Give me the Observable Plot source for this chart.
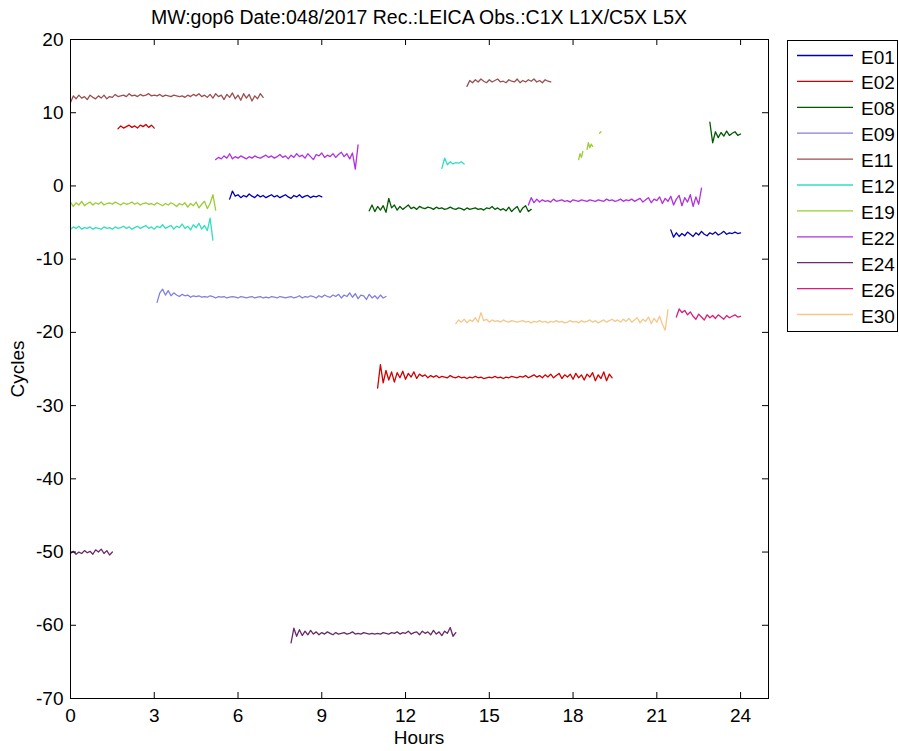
<!DOCTYPE html>
<html>
<head>
<meta charset="utf-8">
<script src="https://cdn.jsdelivr.net/npm/d3@7"></script>
<script src="https://cdn.jsdelivr.net/npm/@observablehq/plot@0.6"></script>
<style>
  html, body { margin: 0; padding: 0; background: #fff; }
  #wrap { position: relative; width: 899px; height: 751px; font-family: "Liberation Sans", Arial, sans-serif; color: #000; }
  #wrap > svg { position: absolute; left: 0; top: 0; }
  .abs { position: absolute; white-space: nowrap; font-size: 19px; }
</style>
</head>
<body>
<div id="wrap"></div>
<script>
// ---- Data ----
const titleText = "MW:gop6 Date:048/2017 Rec.:LEICA Obs.:C1X L1X/C5X L5X";
const xLabel = "Hours";
const yLabel = "Cycles";
const xTicks = [0, 3, 6, 9, 12, 15, 18, 21, 24];
const yTicks = [-70, -60, -50, -40, -30, -20, -10, 0, 10, 20];
const sats = ["E01", "E02", "E08", "E09", "E11", "E12", "E19", "E22", "E24", "E26", "E30"];
const colors = ["#0000b0", "#d00000", "#005a00", "#7f7fdf", "#9a4f4f", "#30dfc0", "#9acd32", "#b030e0", "#6a2a6a", "#d4207e", "#f5c88a"];

// Series values: each pass sampled every 0.1 h (fragments 0.05 h)
const E11_a = [11.4,12.3,11.9,12.4,12.0,12.2,11.8,12.4,12.1,11.9,
  12.3,12.0,12.4,11.9,12.2,12.1,12.5,12.2,12.3,12.4,
  12.2,12.6,12.3,12.4,12.2,12.5,12.3,12.4,12.6,12.3,
  12.4,12.3,12.5,12.2,12.4,12.3,12.2,12.4,12.3,12.2,
  12.3,12.1,12.4,12.2,12.5,12.3,12.6,12.2,12.4,12.1,
  12.5,12.0,12.6,12.2,12.4,11.8,12.5,12.1,12.7,11.9,
  12.4,11.7,12.6,12.0,12.5,11.6,12.3,11.9,12.6,12.1];
const E11_b = [13.6,14.4,14.1,14.5,14.2,14.6,14.3,14.1,14.5,14.2,14.4,14.6,14.2,14.3,14.1,14.5,14.3,14.2,14.6,14.1,14.4,14.2,14.5,14.3,14.6,14.2,14.4,14.1,14.5,14.3,14.2];
const E02_a = [7.8,8.2,7.9,8.1,8.3,8.0,8.2,7.9,8.3,8.1,8.4,8.0,8.3,7.9];
const E02_b = [-27.6,-24.4,-26.9,-25.2,-26.5,-25.4,-26.8,-25.5,-26.2,-25.3,
  -26.4,-25.6,-26.1,-25.4,-26.3,-25.7,-26.0,-25.8,-26.2,-25.9,
  -26.1,-25.9,-26.2,-26.0,-26.1,-26.2,-25.9,-26.1,-26.2,-26.0,
  -26.2,-26.1,-26.3,-26.1,-26.2,-26.0,-26.2,-26.1,-26.3,-26.2,
  -26.1,-26.2,-26.0,-26.2,-26.1,-26.3,-26.1,-26.2,-26.0,-26.1,
  -26.2,-26.0,-26.1,-25.9,-26.2,-26.0,-25.8,-26.1,-25.9,-26.2,
  -25.8,-26.1,-25.7,-26.2,-25.9,-25.6,-26.3,-25.8,-26.1,-25.7,
  -26.4,-25.6,-26.2,-25.8,-26.5,-25.7,-26.1,-25.5,-26.6,-25.8,
  -26.3,-25.4,-26.6,-25.7,-26.2];
const E22_a = [3.6,3.9,3.7,4.1,3.8,4.4,3.7,4.0,3.8,4.1,
  3.9,3.7,4.0,3.8,4.1,3.9,3.8,4.0,4.2,3.9,
  4.1,3.8,4.0,4.3,3.9,4.1,3.7,4.2,3.9,4.4,
  4.0,4.2,3.8,4.4,4.0,3.6,4.3,4.1,4.5,3.9,
  4.2,4.0,4.4,3.9,4.3,4.6,4.0,4.4,3.7,4.5,
  2.3,5.6];
const E22_b = [-2.6,-1.6,-2.3,-1.8,-2.2,-1.9,-2.1,-2.0,-2.2,-1.8,
  -2.1,-2.0,-1.9,-2.1,-2.0,-2.2,-1.9,-2.0,-2.1,-1.9,
  -2.0,-2.1,-1.9,-2.0,-2.1,-1.9,-2.0,-2.1,-1.8,-2.0,
  -1.9,-2.1,-2.0,-1.8,-2.1,-1.9,-2.0,-1.8,-2.1,-1.9,
  -1.7,-2.2,-1.9,-1.6,-2.3,-1.8,-2.0,-1.5,-2.4,-1.7,
  -2.1,-1.4,-2.6,-1.8,-1.3,-2.7,-1.6,-2.2,-1.2,-2.8,
  -1.5,-2.5,-0.3];
const E19_a = [-2.2,-2.8,-2.3,-2.6,-2.1,-2.7,-2.4,-2.2,-2.6,-2.3,
  -2.5,-2.2,-2.6,-2.4,-2.3,-2.5,-2.2,-2.4,-2.6,-2.3,
  -2.5,-2.4,-2.2,-2.5,-2.3,-2.6,-2.4,-2.3,-2.5,-2.4,
  -2.6,-2.3,-2.5,-2.7,-2.4,-2.6,-2.3,-2.5,-2.8,-2.4,
  -2.6,-2.3,-2.9,-2.4,-2.7,-2.2,-3.0,-2.5,-2.1,-3.1,
  -2.4,-1.2,-3.3];
const E19_b = [3.6,4.4,3.9,4.7];
const E19_c = [5.0,5.9,5.2,5.7,5.4];
const E19_d = [7.2,7.4];
const E12_a = [-5.9,-5.6,-5.8,-5.5,-5.9,-5.7,-5.8,-5.6,-5.9,-5.7,
  -5.8,-5.9,-5.6,-5.8,-5.7,-5.9,-5.6,-5.8,-5.7,-5.5,
  -5.8,-5.6,-5.9,-5.7,-5.5,-5.8,-5.6,-5.4,-5.8,-5.6,
  -5.9,-5.5,-5.7,-5.3,-5.8,-5.6,-5.4,-5.9,-5.5,-5.7,
  -5.2,-5.8,-5.5,-6.0,-5.3,-5.7,-5.1,-5.9,-5.4,-6.1,
  -4.4,-7.4];
const E12_b = [2.4,3.8,2.9,3.3,3.0,3.2,3.1,3.3,3.0];
const E01_a = [-1.8,-0.7,-1.4,-1.2,-1.6,-1.3,-1.5,-1.1,-1.4,-1.6,
  -1.2,-1.5,-1.3,-1.6,-1.4,-1.2,-1.5,-1.3,-1.6,-1.4,
  -1.2,-1.5,-1.7,-1.3,-1.5,-1.2,-1.6,-1.4,-1.3,-1.6,
  -1.4,-1.5,-1.3,-1.5];
const E01_b = [-6.0,-7.0,-6.4,-6.9,-6.5,-6.8,-6.3,-6.6,-6.9,-6.4,-6.7,-6.2,-6.6,-6.8,-6.4,-6.6,-6.3,-6.7,-6.5,-6.2,-6.6,-6.4,-6.5,-6.3,-6.5,-6.4];
const E08_a = [-3.4,-2.6,-3.5,-2.8,-3.3,-2.7,-3.6,-1.7,-3.0,-2.6,
  -3.3,-2.8,-3.2,-2.9,-2.6,-3.1,-2.9,-3.2,-2.8,-3.0,
  -3.1,-2.9,-3.0,-3.2,-2.9,-3.1,-3.0,-3.2,-3.1,-2.9,
  -3.1,-3.2,-3.0,-3.1,-3.3,-3.0,-3.2,-3.1,-3.0,-3.2,
  -3.1,-3.3,-3.0,-3.1,-2.8,-3.2,-3.0,-3.3,-3.1,-3.4,
  -2.9,-3.5,-3.1,-2.8,-3.6,-3.0,-2.7,-3.5,-3.2];
const E08_b = [8.7,5.9,7.4,6.6,7.3,6.8,7.5,6.9,7.2,7.4,6.9,7.1];
const E09_a = [-15.9,-14.6,-14.1,-14.9,-14.3,-15.0,-14.6,-14.9,-15.1,-14.8,
  -15.0,-14.9,-15.2,-15.0,-15.1,-15.0,-15.2,-15.1,-15.2,-15.0,
  -15.1,-15.3,-15.1,-15.2,-15.1,-15.3,-15.2,-15.1,-15.2,-15.3,
  -15.1,-15.2,-15.3,-15.2,-15.1,-15.3,-15.2,-15.1,-15.3,-15.2,
  -15.3,-15.1,-15.2,-15.3,-15.1,-15.2,-15.3,-15.2,-15.1,-15.3,
  -15.2,-15.0,-15.3,-15.1,-15.2,-15.0,-15.1,-15.3,-15.0,-15.2,
  -14.9,-15.1,-15.2,-14.9,-15.1,-14.8,-15.3,-14.9,-15.1,-14.6,
  -15.2,-14.7,-15.4,-14.9,-15.0,-15.5,-14.8,-15.3,-15.0,-15.4,
  -14.9,-15.3,-15.1];
const E30_a = [-18.8,-18.3,-18.6,-18.2,-18.7,-18.3,-18.5,-18.0,-18.6,-17.3,
  -18.4,-18.2,-18.6,-18.3,-18.5,-18.4,-18.6,-18.3,-18.5,-18.6,
  -18.4,-18.5,-18.6,-18.5,-18.4,-18.6,-18.5,-18.7,-18.5,-18.6,
  -18.4,-18.6,-18.5,-18.7,-18.5,-18.6,-18.4,-18.6,-18.5,-18.7,
  -18.6,-18.4,-18.6,-18.5,-18.7,-18.4,-18.6,-18.5,-18.3,-18.6,
  -18.4,-18.7,-18.5,-18.3,-18.6,-18.4,-18.2,-18.5,-18.3,-18.6,
  -18.2,-18.5,-18.1,-18.6,-18.3,-18.0,-18.7,-18.2,-18.5,-17.9,
  -18.8,-18.1,-18.6,-17.8,-18.9,-19.7,-16.9];
const E26_a = [-17.9,-16.8,-17.3,-17.0,-17.6,-17.2,-17.8,-18.2,-17.5,-17.9,-18.3,-17.6,-18.0,-17.7,-18.1,-17.6,-17.9,-18.2,-17.7,-18.0,-17.8,-17.6,-17.9,-17.8];
const E24_a = [-50.2,-49.9,-50.3,-50.0,-50.2,-49.8,-50.1,-49.9,-50.3,-49.7,-50.0,-49.6,-50.2,-49.8,-50.4,-50.0];
const E24_b = [-62.4,-60.4,-61.5,-60.6,-61.4,-60.8,-61.3,-60.7,-61.2,-60.9,
  -61.3,-61.0,-61.2,-60.9,-61.1,-61.3,-61.0,-61.2,-61.1,-61.0,
  -61.2,-61.1,-60.9,-61.2,-61.1,-61.2,-61.0,-61.1,-61.2,-61.1,
  -61.2,-61.1,-61.2,-61.0,-61.1,-61.2,-61.0,-61.1,-60.9,-61.2,
  -61.0,-61.1,-60.8,-61.2,-61.0,-60.9,-61.3,-60.8,-61.1,-60.9,
  -61.3,-60.7,-61.2,-60.9,-61.4,-60.8,-61.1,-60.3,-61.5,-61.0];

// passes: [satellite, start hour, step (h), values]
const passes = [
  ["E01", 5.7, 0.1, E01_a], ["E01", 21.5, 0.1, E01_b],
  ["E02", 1.7, 0.1, E02_a], ["E02", 11.0, 0.1, E02_b],
  ["E08", 10.7, 0.1, E08_a], ["E08", 22.9, 0.1, E08_b],
  ["E09", 3.1, 0.1, E09_a],
  ["E11", 0.0, 0.1, E11_a], ["E11", 14.2, 0.1, E11_b],
  ["E12", 0.0, 0.1, E12_a], ["E12", 13.3, 0.1, E12_b],
  ["E19", 0.0, 0.1, E19_a], ["E19", 18.2, 0.05, E19_b], ["E19", 18.5, 0.05, E19_c], ["E19", 18.95, 0.05, E19_d],
  ["E22", 5.2, 0.1, E22_a], ["E22", 16.4, 0.1, E22_b],
  ["E24", 0.0, 0.1, E24_a], ["E24", 7.9, 0.1, E24_b],
  ["E26", 21.7, 0.1, E26_a],
  ["E30", 13.8, 0.1, E30_a]
];

const rows = [];
passes.forEach(([sat, t0, step, vals], k) => {
  vals.forEach((v, i) => rows.push({sat, seg: k, t: t0 + i * step, v}));
});

// ---- Layout ----
const W = 899, H = 751;
const mL = 70, mR = 131, mT = 39, mB = 53;
const plotW = W - mL - mR, plotH = H - mT - mB;
const tickLen = 6;

const chart = Plot.plot({
  width: W, height: H,
  marginLeft: mL, marginRight: mR, marginTop: mT, marginBottom: mB,
  style: {fontFamily: "'Liberation Sans', Arial, sans-serif", fontSize: "19px", color: "#000", background: "transparent", overflow: "visible"},
  x: {domain: [0, 25], ticks: xTicks, tickSize: 0, tickPadding: 10, label: null, tickFormat: d => String(d)},
  y: {domain: [-70, 20], ticks: yTicks, tickSize: 0, tickPadding: 7, label: null, tickFormat: d => String(d)},
  color: {type: "categorical", domain: sats, range: colors},
  marks: [
    Plot.line(rows, {x: "t", y: "v", z: "seg", stroke: "sat", strokeWidth: 1.3}),
    Plot.tickX(xTicks, {x: d => d, insetTop: plotH - tickLen, stroke: "#000"}),
    Plot.tickX(xTicks, {x: d => d, insetBottom: plotH - tickLen, stroke: "#000"}),
    Plot.tickY(yTicks, {y: d => d, insetRight: plotW - tickLen, stroke: "#000"}),
    Plot.tickY(yTicks, {y: d => d, insetLeft: plotW - tickLen, stroke: "#000"}),
    Plot.frame({stroke: "#000"})
  ]
});

const wrap = document.getElementById("wrap");
wrap.appendChild(chart);

function addText(txt, css) {
  const d = document.createElement("div");
  d.className = "abs";
  d.textContent = txt;
  Object.assign(d.style, css);
  wrap.appendChild(d);
  return d;
}
// Title
addText(titleText, {left: (mL + plotW / 2) + "px", top: "6px", transform: "translateX(-50%)", fontSize: "19.5px", lineHeight: "22px"});
// X label
addText(xLabel, {left: (mL + plotW / 2) + "px", top: "727px", transform: "translateX(-50%)", lineHeight: "22px"});
// Y label (rotated)
addText(yLabel, {left: "18px", top: (mT + plotH / 2) + "px", transform: "translate(-50%, -50%) rotate(-90deg)", lineHeight: "22px"});

// Legend (separate SVG overlay built with d3)
const legSvg = d3.select(wrap).append("svg")
  .attr("width", W).attr("height", H)
  .style("position", "absolute").style("left", "0px").style("top", "0px")
  .style("pointer-events", "none");
legSvg.append("rect")
  .attr("x", 787.5).attr("y", 40.5).attr("width", 110).attr("height", 291)
  .attr("fill", "#fff").attr("stroke", "#000").attr("stroke-width", 1);
const items = legSvg.selectAll("g.item").data(sats).join("g")
  .attr("class", "item")
  .attr("transform", (d, i) => `translate(0,${57 + i * 25.9})`);
items.append("line")
  .attr("x1", 797).attr("x2", 853).attr("y1", -1.5).attr("y2", -1.5)
  .attr("stroke", (d, i) => colors[i]).attr("stroke-width", 1.3);
items.append("text")
  .attr("x", 861).attr("y", 6.5)
  .attr("font-family", "'Liberation Sans', Arial, sans-serif")
  .attr("font-size", 19).attr("fill", "#000")
  .text(d => d);
</script>
</body>
</html>
